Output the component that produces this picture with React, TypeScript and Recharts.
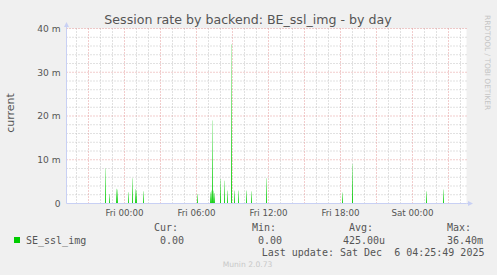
import React from 'react';
import { ComposedChart, Bar, XAxis, YAxis, CartesianGrid, ReferenceLine, ReferenceDot } from 'recharts';

// Sample times in minutes relative to Fri 00:00, values in milli (m)
const spikeMinutes = [-95, -75, -40, -35, 20, 40, 55, 60, 95, 365, 430, 435, 440, 445, 450, 480, 500, 515, 535, 550, 570, 610, 635, 710, 1090, 1140, 1510, 1595];
const spikeValues = [8.0, 2.2, 3.4, 3.2, 2.6, 5.8, 3.3, 3.0, 2.8, 2.2, 2.6, 3.0, 19.0, 3.0, 2.4, 5.6, 5.2, 3.0, 36.4, 3.0, 3.0, 3.0, 2.8, 5.8, 2.5, 9.0, 2.8, 3.2];

const xDomain = [-290, 1710];
const xTickMinutes = [0, 360, 720, 1080, 1440];
const xTickLabels = ['Fri 00:00', 'Fri 06:00', 'Fri 12:00', 'Fri 18:00', 'Sat 00:00'];
const yTicks = [0, 10, 20, 30, 40];
const yTickLabels = ['0', '10 m', '20 m', '30 m', '40 m'];

const majorHours = [-3, 0, 3, 6, 9, 12, 15, 18, 21, 24, 27];
const minorHours = [-4, -2, -1, 1, 2, 4, 5, 7, 8, 10, 11, 13, 14, 16, 17, 19, 20, 22, 23, 25, 26, 28];
const yMajor = [10, 20, 30, 40];
const yMinor = [2, 4, 6, 8, 12, 14, 16, 18, 22, 24, 26, 28, 32, 34, 36, 38];

const seriesName = 'SE_ssl_img';
const statLabels = ['Cur:', 'Min:', 'Avg:', 'Max:'];
const statValues = ['0.00', '0.00', '425.00u', '36.40m'];

const data = spikeMinutes.map((t, i) => ({ t, v: spikeValues[i] }));

const GREEN = '#00cc00';
const AXIS = '#c8d0f4';
const MINOR = '#c2c2c2';
const MAJOR = '#e49a9a';
const SANS = 'DejaVu Sans, sans-serif';
const MONO = 'DejaVu Sans Mono, monospace';

const XTick = (props: any) => {
  const { x, y, payload } = props;
  const idx = xTickMinutes.indexOf(payload.value);
  return (
    <text x={x} y={y + 12.5} textAnchor="middle" fontSize={8.7} fill="#555" fontFamily={SANS}>
      {xTickLabels[idx] ?? ''}
    </text>
  );
};

const YTick = (props: any) => {
  const { x, y, payload } = props;
  const idx = yTicks.indexOf(payload.value);
  return (
    <text x={x} y={y + 3.3} textAnchor="end" fontSize={9.1} fill="#555" fontFamily={SANS}>
      {yTickLabels[idx] ?? ''}
    </text>
  );
};

const RightArrow = (props: any) => {
  const { cx, cy } = props;
  return (
    <g>
      <line x1={cx} y1={cy} x2={cx + 3} y2={cy} stroke={AXIS} strokeWidth={1} />
      <polygon points={`${cx + 1.5},${cy - 2.5} ${cx + 6.5},${cy} ${cx + 1.5},${cy + 2.5}`} fill={AXIS} />
    </g>
  );
};

const UpArrow = (props: any) => {
  const { cx, cy } = props;
  return (
    <g>
      <line x1={cx} y1={cy} x2={cx} y2={cy - 3} stroke={AXIS} strokeWidth={1} />
      <polygon points={`${cx - 2.5},${cy - 1.5} ${cx},${cy - 6.5} ${cx + 2.5},${cy - 1.5}`} fill={AXIS} />
    </g>
  );
};

export default function App() {
  return (
    <div style={{ position: 'absolute', left: 0, top: 0, width: 497, height: 275, background: '#f0f0f0', overflow: 'hidden' }}>
      <ComposedChart
        width={497}
        height={275}
        data={data}
        margin={{ top: 28.5, right: 30.5, bottom: 51.5, left: 6.5 }}
      >
        <defs>
          <linearGradient id="spikeFill" x1="0" y1="0" x2="0" y2="1">
            <stop offset="0%" stopColor={GREEN} stopOpacity={0.25} />
            <stop offset="60%" stopColor={GREEN} stopOpacity={0.75} />
            <stop offset="100%" stopColor={GREEN} stopOpacity={1} />
          </linearGradient>
        </defs>
        <CartesianGrid fill="#ffffff" horizontal={false} vertical={false} stroke="none" />
        {minorHours.map((h) => (
          <ReferenceLine key={'vx' + h} x={h * 60} stroke={MINOR} strokeDasharray="1 2" zIndex={-60} />
        ))}
        {yMinor.map((v) => (
          <ReferenceLine key={'hy' + v} y={v} stroke={MINOR} strokeDasharray="1 2" zIndex={-60} />
        ))}
        {majorHours.map((h) => (
          <ReferenceLine key={'VX' + h} x={h * 60} stroke={MAJOR} strokeDasharray="1 2" zIndex={-55} />
        ))}
        {yMajor.map((v) => (
          <ReferenceLine key={'HY' + v} y={v} stroke={MAJOR} strokeDasharray="1 2" zIndex={-55} />
        ))}
        <XAxis
          type="number"
          dataKey="t"
          domain={xDomain}
          ticks={xTickMinutes}
          allowDataOverflow
          height={20}
          tickLine={false}
          tickSize={0}
          tickMargin={0}
          axisLine={{ stroke: AXIS }}
          tick={<XTick />}
          interval={0}
        />
        <YAxis
          type="number"
          domain={[0, 40]}
          ticks={yTicks}
          allowDataOverflow
          width={60}
          tickLine={false}
          tickSize={0}
          tickMargin={6}
          axisLine={{ stroke: AXIS }}
          tick={<YTick />}
          interval={0}
        />
        <Bar dataKey="v" fill="url(#spikeFill)" barSize={1} isAnimationActive={false} />
        <ReferenceDot x={xDomain[1]} y={0} r={0} ifOverflow="visible" shape={<RightArrow />} />
        <ReferenceDot x={xDomain[0]} y={40} r={0} ifOverflow="visible" shape={<UpArrow />} />
      </ComposedChart>
      <svg width={497} height={275} style={{ position: 'absolute', left: 0, top: 0, pointerEvents: 'none' }}>
        <text x={248} y={24} textAnchor="middle" fontSize={12.6} fill="#555" fontFamily={SANS}>
          Session rate by backend: BE_ssl_img - by day
        </text>
        <text transform="translate(13.5,113) rotate(-90)" textAnchor="middle" fontSize={11} fill="#555" fontFamily={SANS}>
          current
        </text>
        <text transform="translate(485,15) rotate(90)" textAnchor="start" fontSize={7.4} fill="#c4c4c4" fontFamily={SANS}>
          RRDTOOL / TOBI OETIKER
        </text>
        <rect x={14} y={237} width={6} height={6} fill={GREEN} />
        <text x={26} y={244} fontSize={10} fill="#555" fontFamily={MONO}>{seriesName}</text>
        <text x={154} y={231} fontSize={10} fill="#555" fontFamily={MONO}>{statLabels[0]}</text>
        <text x={252} y={231} fontSize={10} fill="#555" fontFamily={MONO}>{statLabels[1]}</text>
        <text x={349} y={231} fontSize={10} fill="#555" fontFamily={MONO}>{statLabels[2]}</text>
        <text x={447} y={231} fontSize={10} fill="#555" fontFamily={MONO}>{statLabels[3]}</text>
        <text x={160} y={244} fontSize={10} fill="#555" fontFamily={MONO}>{statValues[0]}</text>
        <text x={258} y={244} fontSize={10} fill="#555" fontFamily={MONO}>{statValues[1]}</text>
        <text x={343} y={244} fontSize={10} fill="#555" fontFamily={MONO}>{statValues[2]}</text>
        <text x={447} y={244} fontSize={10} fill="#555" fontFamily={MONO}>{statValues[3]}</text>
        <text x={261.7} y={255.5} fontSize={10} fill="#555" fontFamily={MONO} style={{ whiteSpace: 'pre' }}>
          {'Last update: Sat Dec  6 04:25:49 2025'}
        </text>
        <text x={247.5} y={267} textAnchor="middle" fontSize={7.6} fill="#c8c8c8" fontFamily={SANS}>
          Munin 2.0.73
        </text>
      </svg>
    </div>
  );
}
